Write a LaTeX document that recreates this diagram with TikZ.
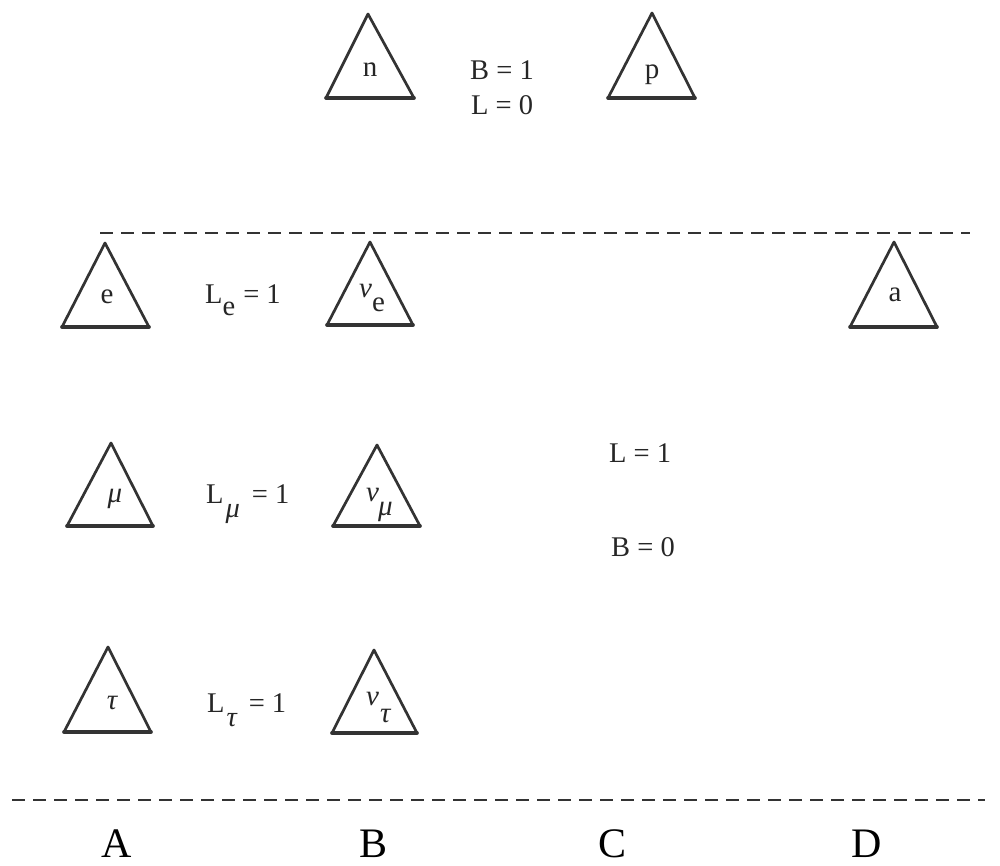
\documentclass[tikz,border=0pt]{standalone}
\usepackage{fontspec}
\setmainfont{Liberation Serif}
\newcommand{\mytri}[7]{%
  \coordinate (#1-t) at (#2,#3);
  \coordinate (#1-l) at (#4,#5);
  \coordinate (#1-r) at (#6,#7);
  \draw[tri] (#1-t) -- (#1-l) -- (#1-r) -- cycle;
  \draw[tribase] (#1-l) -- (#1-r);}
\begin{document}
\begin{tikzpicture}[x=1pt,y=-1pt,
  tri/.style={draw=black!80, line width=2.7pt, line join=round},
  tribase/.style={draw=black!80, line width=3.6pt, line cap=round},
  lbl/.style={font=\fontsize{29}{32}\selectfont, text=black!85, inner sep=0pt},
  eqn/.style={font=\fontsize{28.5}{32}\selectfont, text=black!85, inner sep=0pt},
  col/.style={font=\fontsize{42}{46}\selectfont, text=black, inner sep=0pt},
  sep/.style={draw=black!80, line width=1.7pt, dash pattern=on 13pt off 8pt}]
\useasboundingbox (0,0) rectangle (1000,866);

% top row
\mytri{tn}{368}{14}{326}{98}{414}{98}
\mytri{tp}{652}{13}{608}{98}{695}{98}
\node[lbl] (n) at (370,70) {n};
\node[lbl] (p) at (652,75) {p};
\node[eqn] (b1) at (502,70) {B = 1};
\node[eqn] (l0) at (502,105) {L = 0};

% separator 1
\coordinate (s1a) at (100,233);
\coordinate (s1b) at (970,233);
\draw[sep] (s1a) -- (s1b);

% electron row
\mytri{te}{105}{243}{62}{327}{149}{327}
\mytri{tnue}{370}{242}{327}{325}{413}{325}
\mytri{ta}{894}{242}{850}{327}{937}{327}
\node[lbl] (e) at (107,297) {e};
\node[lbl, anchor=base west] (nue) at (359,298) {\itshape ν\raisebox{-14pt}{\upshape e}};
\node[lbl] (a) at (895,295) {a};
\node[eqn, anchor=base west] (le) at (205,303) {L\raisebox{-12pt}{e}\hspace{8pt}= 1};

% muon row
\mytri{tmu}{111}{443}{67}{526}{153}{526}
\mytri{tnumu}{377}{445}{333}{526}{420}{526}
\node[lbl] (mu) at (115,499) {\itshape μ};
\node[lbl, anchor=base west] (numu) at (366,501) {\itshape ν\hspace{-1pt}\raisebox{-14pt}{μ}};
\node[eqn, anchor=base west] (lmu) at (206,503) {L\hspace{2pt}\raisebox{-14pt}{\itshape μ}\hspace{12pt}= 1};

% tau row
\mytri{ttau}{108}{647}{64}{732}{151}{732}
\mytri{tnutau}{374}{650}{332}{733}{417}{733}
\node[lbl] (tau) at (112,703) {\itshape τ};
\node[lbl, anchor=base west] (nutau) at (366,705) {\itshape ν\hspace{1pt}\raisebox{-17pt}{τ}};
\node[eqn, anchor=base west] (ltau) at (207,712) {L\hspace{2pt}\raisebox{-14pt}{\itshape τ}\hspace{12pt}= 1};

% right labels
\node[eqn] (l1) at (640,453) {L = 1};
\node[eqn] (b0) at (643,547) {B = 0};

% separator 2
\coordinate (s2a) at (12,800);
\coordinate (s2b) at (985,800);
\draw[sep] (s2a) -- (s2b);

% columns
\node[col, anchor=base] (ca) at (117,857) {A};
\node[col, anchor=base] (cb) at (374,857) {B};
\node[col, anchor=base] (cc) at (612,857) {C};
\node[col, anchor=base] (cd) at (867,857) {D};
\end{tikzpicture}
\end{document}
